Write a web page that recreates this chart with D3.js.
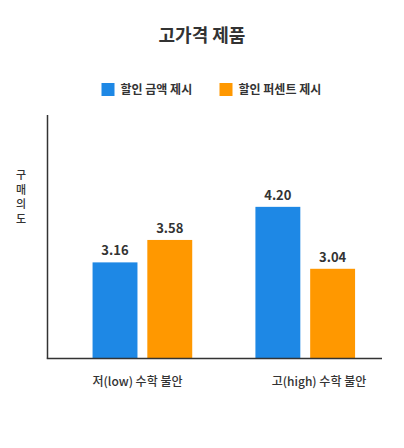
<!DOCTYPE html>
<html>
<head>
<meta charset="utf-8">
<script src="https://cdn.jsdelivr.net/npm/d3@7"></script>
<style>
  body { margin: 0; background: #fff; }
  text { font-family: "Noto Sans CJK KR", "Noto Sans", sans-serif; fill: #333; }
</style>
</head>
<body>
<svg class="chart-svg"></svg>
<script>
// data
const groups = ["저(low) 수학 불안", "고(high) 수학 불안"];
const series = ["할인 금액 제시", "할인 퍼센트 제시"];
const amountValues = [3.16, 4.20];
const percentValues = [3.58, 3.04];
const colors = ["#1e88e5", "#ff9800"];
const titleText = "고가격 제품";
const yLabel = "구매의도";

const data = groups.map((g, i) => ({
  group: g,
  values: [
    { key: series[0], value: amountValues[i] },
    { key: series[1], value: percentValues[i] }
  ]
}));

const width = 404, height = 448;
const plot = { left: 47.5, right: 382, top: 115, bottom: 358.5 };

const svg = d3.select('.chart-svg')
  .attr('width', width)
  .attr('height', height);

// title
svg.append('text')
  .attr('x', 202)
  .attr('y', 42)
  .attr('text-anchor', 'middle')
  .style('font-size', '18px')
  .style('font-weight', 'bold')
  .text(titleText);

// legend
const legendX = [101.5, 219.5];
const legend = svg.selectAll('.legend')
  .data(series)
  .enter()
  .append('g')
  .attr('class', 'legend')
  .attr('transform', (d, i) => `translate(${legendX[i]},83)`);

legend.append('rect')
  .attr('width', 13)
  .attr('height', 13)
  .attr('fill', (d, i) => colors[i]);

legend.append('text')
  .attr('x', 19)
  .attr('y', 11)
  .style('font-size', '12px')
  .style('font-weight', 'bold')
  .text(d => d);

// scales
const x0 = d3.scaleBand()
  .domain(groups)
  .range([plot.left, plot.right])
  .paddingInner(0.388)
  .paddingOuter(0.221)
  .align(0.626);

const x1 = d3.scaleBand()
  .domain(series)
  .range([0, x0.bandwidth()])
  .paddingInner(0.18);

// bars are not drawn from zero in the original, domain fitted to bar heights
const y = d3.scaleLinear()
  .domain([1.36, 5.92])
  .range([plot.bottom, plot.top]);

const bars = svg.selectAll('.bar')
  .data(data)
  .enter()
  .append('g')
  .attr('class', 'bar')
  .attr('transform', d => `translate(${x0(d.group)},0)`);

bars.selectAll('rect')
  .data(d => d.values)
  .enter()
  .append('rect')
  .attr('x', d => x1(d.key))
  .attr('y', d => y(d.value))
  .attr('width', x1.bandwidth())
  .attr('height', d => plot.bottom - y(d.value))
  .attr('fill', (d, i) => colors[i]);

bars.selectAll('.value')
  .data(d => d.values)
  .enter()
  .append('text')
  .attr('class', 'value')
  .attr('x', d => x1(d.key) + x1.bandwidth() / 2)
  .attr('y', d => y(d.value) - 7)
  .attr('text-anchor', 'middle')
  .style('font-size', '13px')
  .style('font-weight', 'bold')
  .text(d => d.value.toFixed(2));

// axes lines, no ticks
svg.append('line')
  .attr('x1', plot.left).attr('x2', plot.left)
  .attr('y1', plot.top).attr('y2', plot.bottom)
  .attr('stroke', '#333')
  .attr('stroke-width', 1.5);

svg.append('line')
  .attr('x1', plot.left - 0.75).attr('x2', plot.right)
  .attr('y1', plot.bottom).attr('y2', plot.bottom)
  .attr('stroke', '#333')
  .attr('stroke-width', 1.5);

// x labels sit a little off the group centres in the original
const xLabel = d3.scalePoint()
  .domain(groups)
  .range([137.5, 319]);

svg.selectAll('.x-label')
  .data(groups)
  .enter()
  .append('text')
  .attr('class', 'x-label')
  .attr('x', d => xLabel(d))
  .attr('y', 386)
  .attr('text-anchor', 'middle')
  .style('font-size', '12px')
  .style('font-weight', '500')
  .text(d => d);

// vertical y label, one char per line
svg.append('text')
  .attr('text-anchor', 'middle')
  .style('font-size', '11px')
  .style('font-weight', '500')
  .selectAll('tspan')
  .data(yLabel.split(''))
  .enter()
  .append('tspan')
  .attr('x', 21)
  .attr('y', (d, i) => 179 + i * 14.5)
  .text(d => d);
</script>
</body>
</html>
